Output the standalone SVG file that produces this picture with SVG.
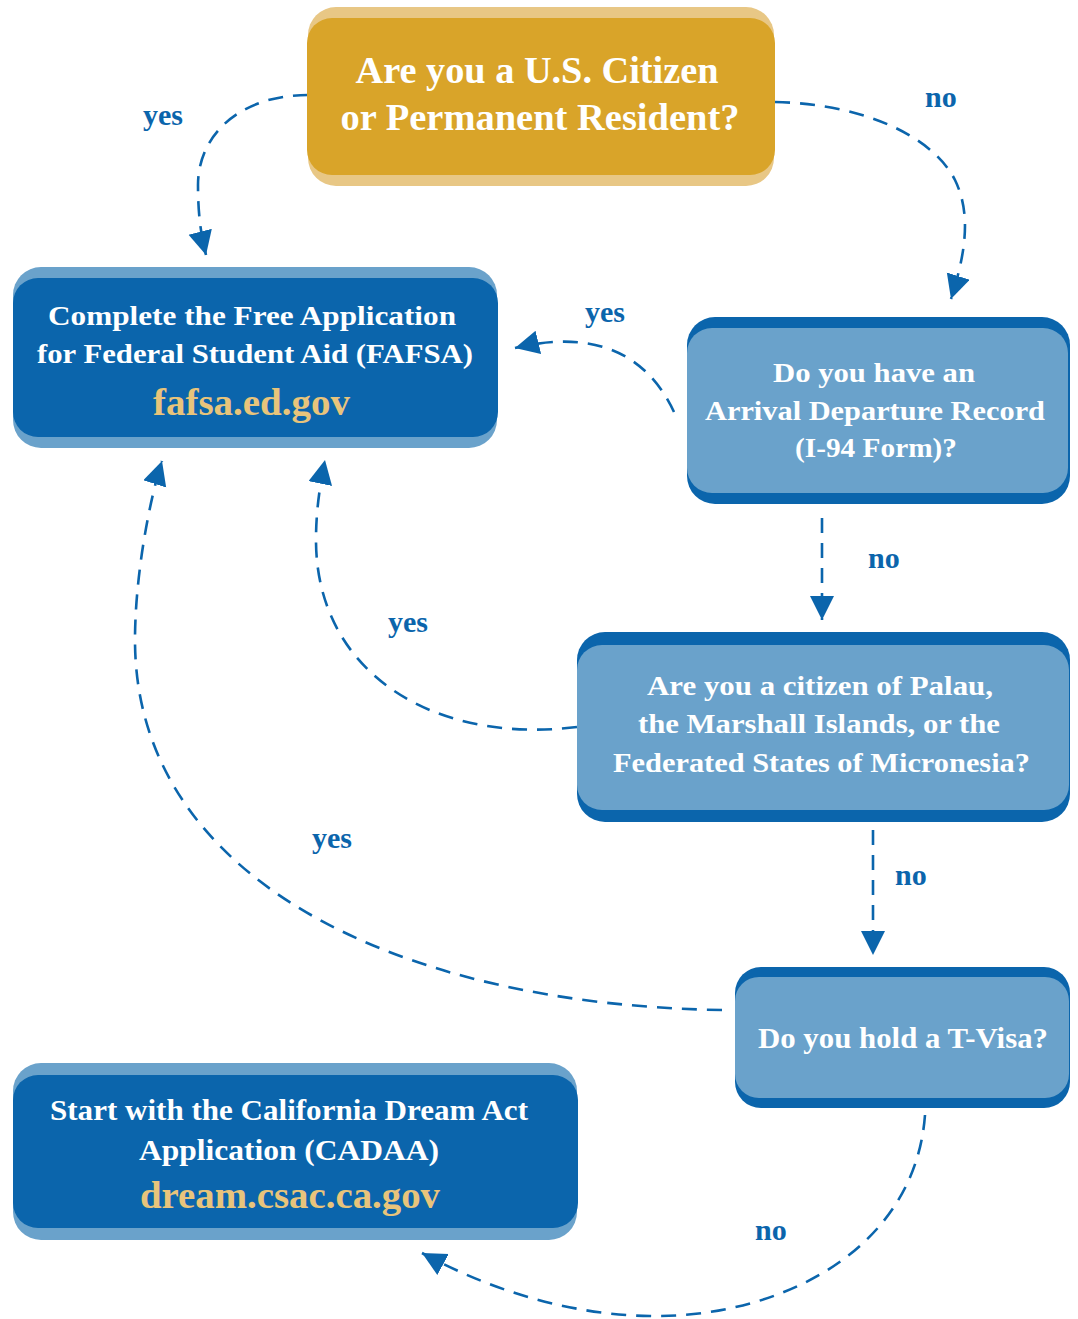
<svg xmlns="http://www.w3.org/2000/svg" width="1078" height="1319" viewBox="0 0 1078 1319">
  <style>
    .t { font-family: "Liberation Serif", "Times New Roman", serif; font-weight: bold; fill: #ffffff; text-anchor: middle; }
    .url { font-family: "Liberation Serif", "Times New Roman", serif; font-weight: bold; fill: #E8C47B; text-anchor: middle; }
    .lbl { font-family: "Liberation Serif", "Times New Roman", serif; font-weight: bold; fill: #0B65AC; font-size: 30px; }
    .conn { fill: none; stroke: #0B65AC; stroke-width: 2.6; stroke-dasharray: 15 10; marker-end: url(#arrow); }
    .dark { fill: #0B65AC; }
    .light { fill: #6AA2CB; }
  </style>
  <defs>
    <marker id="arrow" markerUnits="userSpaceOnUse" markerWidth="26" markerHeight="26" refX="24" refY="12" orient="auto">
      <path d="M0,0 L24,12 L0,24 z" fill="#0B65AC"/>
    </marker>
  </defs>
  <rect width="1078" height="1319" fill="#ffffff"/>

  <g id="connectors">
    <path class="conn" d="M308,95 C240,95 198,135 198,185 C198,215 201,235 206,255"/>
    <path class="conn" d="M775,102 C870,104 935,140 955,180 C972,215 965,255 951,299"/>
    <path class="conn" d="M674,412 C645,350 590,330 515,348"/>
    <path class="conn" d="M822,518 L822,620"/>
    <path class="conn" d="M577,727 C430,745 316,670 316,540 C316,510 320,485 325,460"/>
    <path class="conn" d="M873,830 L873,955"/>
    <path class="conn" d="M722,1010 C400,1005 135,880 135,640 C135,580 148,505 162,461"/>
    <path class="conn" d="M925,1115 C915,1250 780,1318 650,1316 C570,1315 490,1290 422,1253"/>
  </g>

  <g id="labels">
    <text class="lbl" x="143" y="125">yes</text>
    <text class="lbl" x="925" y="107">no</text>
    <text class="lbl" x="585" y="322">yes</text>
    <text class="lbl" x="868" y="568">no</text>
    <text class="lbl" x="388" y="632">yes</text>
    <text class="lbl" x="895" y="885">no</text>
    <text class="lbl" x="312" y="848">yes</text>
    <text class="lbl" x="755" y="1240">no</text>
  </g>

  <g id="node-citizen">
    <rect x="308" y="7" width="466" height="179" rx="28" fill="#E8C785"/>
    <rect x="307" y="18" width="468" height="157" rx="25" fill="#D9A429"/>
    <text class="t" x="537" y="83" font-size="38" textLength="363" lengthAdjust="spacingAndGlyphs">Are you a U.S. Citizen</text>
    <text class="t" x="540" y="130" font-size="38" textLength="399" lengthAdjust="spacingAndGlyphs">or Permanent Resident?</text>
  </g>

  <g id="node-fafsa">
    <rect class="light" x="13" y="267" width="484" height="181" rx="28"/>
    <rect class="dark" x="13" y="278" width="485" height="159" rx="25"/>
    <text class="t" x="252" y="325" font-size="28" textLength="408" lengthAdjust="spacingAndGlyphs">Complete the Free Application</text>
    <text class="t" x="255" y="363" font-size="28" textLength="436" lengthAdjust="spacingAndGlyphs">for Federal Student Aid (FAFSA)</text>
    <text class="url" x="251.5" y="415" font-size="38" textLength="197" lengthAdjust="spacingAndGlyphs">fafsa.ed.gov</text>
  </g>

  <g id="node-i94">
    <rect class="dark" x="687" y="317" width="383" height="187" rx="28"/>
    <rect class="light" x="687" y="328" width="381" height="165" rx="25"/>
    <text class="t" x="874" y="382" font-size="28" textLength="202" lengthAdjust="spacingAndGlyphs">Do you have an</text>
    <text class="t" x="875" y="420" font-size="28" textLength="340" lengthAdjust="spacingAndGlyphs">Arrival Departure Record</text>
    <text class="t" x="876" y="457" font-size="28" textLength="162" lengthAdjust="spacingAndGlyphs">(I-94 Form)?</text>
  </g>

  <g id="node-palau">
    <rect class="dark" x="577" y="632" width="493" height="190" rx="28"/>
    <rect class="light" x="577" y="645" width="492" height="165" rx="25"/>
    <text class="t" x="820" y="695" font-size="28" textLength="346" lengthAdjust="spacingAndGlyphs">Are you a citizen of Palau,</text>
    <text class="t" x="819" y="733" font-size="28" textLength="362" lengthAdjust="spacingAndGlyphs">the Marshall Islands, or the</text>
    <text class="t" x="821.5" y="772" font-size="28" textLength="417" lengthAdjust="spacingAndGlyphs">Federated States of Micronesia?</text>
  </g>

  <g id="node-tvisa">
    <rect class="dark" x="735" y="967" width="335" height="141" rx="26"/>
    <rect class="light" x="735" y="977" width="334" height="121" rx="24"/>
    <text class="t" x="903" y="1048" font-size="30" textLength="290" lengthAdjust="spacingAndGlyphs">Do you hold a T-Visa?</text>
  </g>

  <g id="node-cadaa">
    <rect class="light" x="13" y="1063" width="564" height="177" rx="28"/>
    <rect class="dark" x="13" y="1075" width="565" height="153" rx="25"/>
    <text class="t" x="289" y="1120" font-size="29" textLength="478" lengthAdjust="spacingAndGlyphs">Start with the California Dream Act</text>
    <text class="t" x="289" y="1160" font-size="29" textLength="300" lengthAdjust="spacingAndGlyphs">Application (CADAA)</text>
    <text class="url" x="290" y="1208" font-size="38" textLength="300" lengthAdjust="spacingAndGlyphs">dream.csac.ca.gov</text>
  </g>
</svg>
